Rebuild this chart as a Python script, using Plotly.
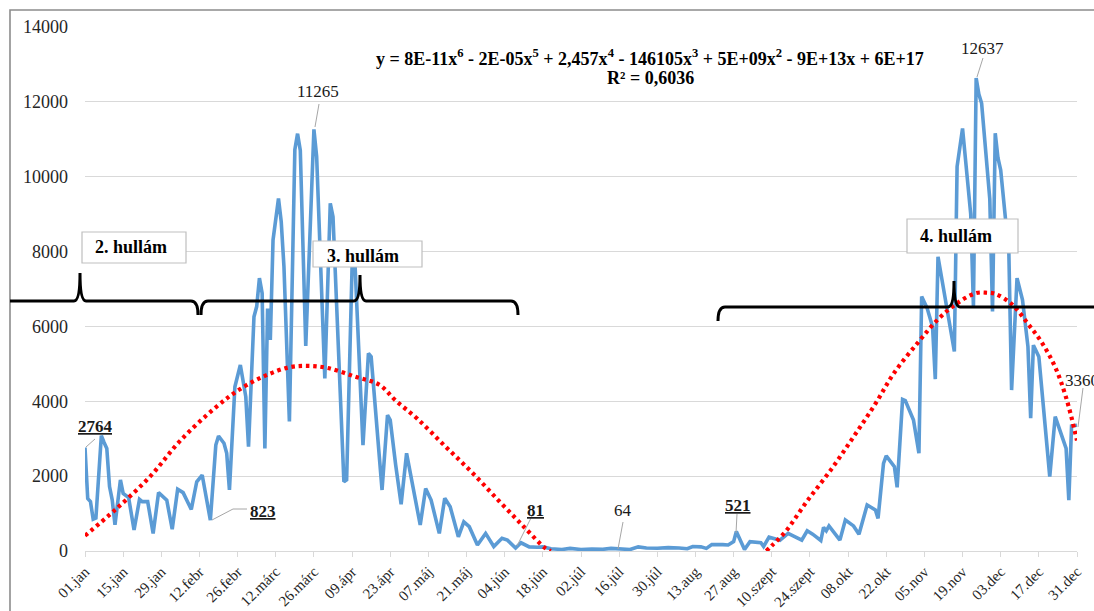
import plotly.graph_objects as go

# ---------------- data ----------------
case_days = [0, 1, 2, 3, 4, 6, 7, 8, 9, 10, 11, 13, 14, 16, 18, 20, 21, 23, 25, 27, 30, 32, 34, 36, 39, 41, 43, 46,
             48, 49, 51, 52, 53, 55, 57, 59, 60, 62, 63, 64, 65, 66, 67, 68, 69, 71, 72, 73, 75, 77, 78, 79, 81,
             84, 85, 88, 90, 91, 95, 96, 98, 99, 102, 104, 105, 109, 111, 112, 114, 116, 118, 123, 125, 127, 130,
             132, 134, 137, 139, 141, 144, 147, 150, 153, 155, 158, 160, 163, 166, 168, 171, 175, 178, 182, 186,
             190, 193, 197, 200, 203, 206, 210, 214, 218, 221, 223, 226, 228, 230, 234, 236, 238, 239, 242, 244,
             248, 249, 251, 255, 258, 263, 265, 267, 270, 271, 272, 273, 277, 279, 282, 284, 287, 290, 291, 293,
             294, 297, 298, 300, 301, 304, 306, 307, 309, 311, 312, 313, 319, 320, 322, 325, 326, 327, 328, 329,
             332, 333, 334, 335, 336, 339, 340, 342, 344, 346, 347, 348, 350, 354, 356, 360, 361, 362, 364]
case_values = [2764, 1400, 1320, 850, 880, 3080, 2900, 2740, 1720, 1360, 700, 1900, 1540, 1430, 560, 1380, 1320,
               1320, 470, 1560, 1360, 580, 1650, 1560, 1110, 1850, 2030, 823,
               2830, 3070, 2880, 2610, 1630, 4390, 4970, 4120, 2790, 6260, 6530, 7290, 6890, 2740, 6480, 5640,
               8310, 9420, 8800, 7600, 3460, 10720, 11150, 10700, 5480,
               11265, 10540, 4610, 9290, 8930, 1850, 1900, 7600, 7780, 2830, 5280, 5190, 1630, 3630, 3500, 2300,
               1250, 2610, 695, 1670, 1360, 470,
               1410, 1180, 380, 780, 650, 160, 470, 120, 340, 290, 81, 220, 110, 100, 110, 60, 40, 70, 40, 55,
               45, 70, 64, 40, 110, 80, 75, 90, 80, 60, 120, 110, 70, 170, 170, 160, 250, 521, 40, 250,
               220, 120, 370, 290, 470, 290, 540, 450, 280, 630, 540, 670, 290, 830, 670, 450, 1230, 1100, 870, 2340,
               2540, 2250, 1700, 4050, 4020, 3500, 2610, 6800, 6490, 5990, 4590, 7860, 5330, 10270, 11290, 9000,
               6530, 12637, 12200, 11960,
               9400, 6400, 11160, 10500, 10180, 7950, 4300, 7290, 6710, 5460, 3550, 5500, 5190, 1990, 3590, 2740,
               1360, 3340, 3360]

trend_days_a = [0, 11, 24, 35, 48, 57, 66, 75, 82, 89, 99, 108, 114, 122, 132, 142, 152, 161, 169, 171]
trend_vals_a = [410, 1095, 2000, 2950, 3840, 4330, 4680, 4910, 4945, 4890, 4660, 4440, 4020, 3530, 2810, 2100,
                1330, 650, 70, 0]
trend_days_b = [250, 252, 257, 265, 274, 282, 290, 297, 306, 313, 320, 327, 331, 334, 340, 346, 351, 356, 360, 364]
trend_vals_b = [0, 142, 516, 1336, 2200, 3050, 3930, 4770, 5600, 6190, 6620, 6890, 6900, 6870, 6600, 6070, 5580,
                4910, 4100, 2950]

tick_days = list(range(0, 365, 14))
tick_labels = ["01.jan", "15.jan", "29.jan", "12.febr", "26.febr", "12.márc", "26.márc", "09.ápr", "23.ápr",
               "07.máj", "21.máj", "04.jún", "18.jún", "02.júl", "16.júl", "30.júl", "13.aug", "27.aug",
               "10.szept", "24.szept", "08.okt", "22.okt", "05.nov", "19.nov", "03.dec", "17.dec", "31.dec"]
y_ticks = [0, 2000, 4000, 6000, 8000, 10000, 12000, 14000]

equation = ("y = 8E-11x<sup>6</sup> - 2E-05x<sup>5</sup> + 2,457x<sup>4</sup> - 146105x<sup>3</sup> + "
            "5E+09x<sup>2</sup> - 9E+13x + 6E+17")
r_squared = "R² = 0,6036"
wave_labels = ["2. hullám", "3. hullám", "4. hullám"]

# ---------------- geometry helpers (pixels -> paper) ----------------
W, H = 1094, 611
L, R, T, B = 85, 17, 27, 60
PW, PH = W - L - R, H - T - B


def px(x):
    return (x - L) / PW


def py(y):
    return (H - B - y) / PH


def P(x, y):
    return f"{px(x):.5f},{py(y):.5f}"


FONT = "'Liberation Serif', 'Times New Roman', Tinos, 'DejaVu Serif', serif"

fig = go.Figure()
fig.add_trace(go.Scatter(x=case_days, y=case_values, mode="lines",
                         line=dict(color="#5B9BD5", width=3.6), hoverinfo="skip"))
for td, tv in ((trend_days_a, trend_vals_a), (trend_days_b, trend_vals_b)):
    fig.add_trace(go.Scatter(x=td, y=tv, mode="lines", line_shape="spline",
                             line=dict(color="#FF0000", width=4.2, dash="3.5px,3.8px"), hoverinfo="skip"))

shapes = []
# outer border
shapes.append(dict(type="rect", xref="paper", yref="paper", x0=px(10), x1=px(1110), y0=py(625), y1=py(10),
                   line=dict(color="#8C8C8C", width=1.6), fillcolor="rgba(0,0,0,0)", layer="above"))

brackets = [
    ["M", P(10, 301), "L", P(74, 301), "Q", P(80, 301), P(80, 273), "Q", P(80, 301), P(86, 301),
     "L", P(191, 301), "Q", P(198, 301), P(198, 315)],
    ["M", P(201, 315), "Q", P(201, 301), P(208, 301), "L", P(354, 301), "Q", P(360, 301), P(360, 275),
     "Q", P(360, 301), P(366, 301), "L", P(511, 301), "Q", P(518, 301), P(518, 315)],
    ["M", P(718, 321), "Q", P(718, 307), P(725, 307), "L", P(948, 307), "Q", P(954, 307), P(954, 281),
     "Q", P(954, 307), P(960, 307), "L", P(1110, 307)],
]
for b in brackets:
    shapes.append(dict(type="path", xref="paper", yref="paper", path=" ".join(b),
                       line=dict(color="black", width=3), layer="above"))

# wave boxes
boxes = [(82, 232, 186, 263, 93, 247), (313, 241, 422, 267, 325, 256), (907, 219, 1018, 253, 918, 236)]
annotations = []
for (x0, y0, x1, y1, tx, ty), lab in zip(boxes, wave_labels):
    shapes.append(dict(type="rect", xref="paper", yref="paper", x0=px(x0), x1=px(x1), y0=py(y1), y1=py(y0),
                       line=dict(color="#BFBFBF", width=1.2), fillcolor="white", layer="above"))
    annotations.append(dict(xref="paper", yref="paper", x=px(tx), y=py(ty), xanchor="left", yanchor="middle",
                            text=f"<b>{lab}</b>", showarrow=False,
                            font=dict(family=FONT, size=18, color="black")))

# leader lines
leaders = [[(95, 439), (86, 447)],
           [(247, 509), (233, 509), (212, 520)],
           [(319, 104), (315, 127)],
           [(533, 514), (517, 546)],
           [(623, 522), (618, 549)],
           [(737, 514), (736, 533)],
           [(983, 58), (977, 77)],
           [(1083, 388), (1078, 427)]]
for pts in leaders:
    cmd = "M " + P(*pts[0]) + "".join(" L " + P(*p) for p in pts[1:])
    shapes.append(dict(type="path", xref="paper", yref="paper", path=cmd,
                       line=dict(color="#A6A6A6", width=1), layer="above"))

# value labels
value_labels = [("<b><u>2764</u></b>", 95, 427, "center"),
                ("<b><u>823</u></b>", 263, 511, "center"),
                ("11265", 318, 92, "center"),
                ("<b><u>81</u></b>", 535, 510, "center"),
                ("64", 623, 510, "center"),
                ("<b><u>521</u></b>", 738, 505, "center"),
                ("12637", 982, 48, "center"),
                ("3360", 1063, 380, "left")]
for txt, x, y, anc in value_labels:
    annotations.append(dict(xref="paper", yref="paper", x=px(x), y=py(y), xanchor=anc, yanchor="middle",
                            text=txt, showarrow=False, font=dict(family=FONT, size=17, color="#1a1a1a")))

annotations.append(dict(xref="paper", yref="paper", x=px(650), y=py(57), xanchor="center", yanchor="middle",
                        text=f"<b>{equation}</b>", showarrow=False, font=dict(family=FONT, size=18, color="black")))
annotations.append(dict(xref="paper", yref="paper", x=px(650), y=py(78), xanchor="center", yanchor="middle",
                        text=f"<b>{r_squared}</b>", showarrow=False, font=dict(family=FONT, size=18, color="black")))

fig.update_layout(
    width=W, height=H, margin=dict(l=L, r=R, t=T, b=B, autoexpand=False),
    paper_bgcolor="white", plot_bgcolor="white", showlegend=False,
    font=dict(family=FONT),
    shapes=shapes, annotations=annotations,
    xaxis=dict(range=[0, 364], tickmode="array", tickvals=tick_days, ticktext=tick_labels, tickangle=-45,
               showgrid=False, showline=True, linecolor="#D9D9D9", linewidth=1.2, ticks="outside",
               ticklen=5, tickcolor="#D9D9D9", zeroline=False, automargin=False,
               tickfont=dict(family=FONT, size=15, color="#262626")),
    yaxis=dict(range=[0, 14000], tickmode="array", tickvals=y_ticks, ticktext=[str(v) for v in y_ticks],
               showgrid=True, gridcolor="#D9D9D9", gridwidth=1.2, zeroline=False, showline=False,
               automargin=False, ticklabelstandoff=16,
               tickfont=dict(family=FONT, size=18, color="#262626")),
)

fig.write_html("out.html", config={"displayModeBar": False},
               post_script="document.body.style.margin='0';document.body.style.overflow='hidden';")
